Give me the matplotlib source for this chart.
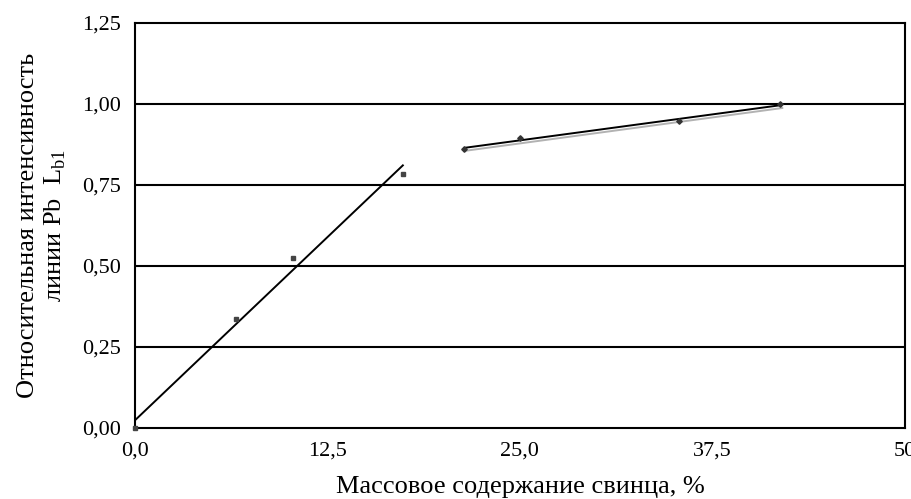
import numpy as np
import matplotlib
matplotlib.use('Agg')
import matplotlib.pyplot as plt
import matplotlib.patheffects as pe

plt.rcParams['font.family'] = ['Liberation Serif', 'DejaVu Serif']

# data
x_low = [0.0, 6.6, 10.3, 17.4]
y_low = [0.0, 0.336, 0.525, 0.784]
x_high = [21.4, 25.0, 35.3, 41.9]
y_high = [0.861, 0.895, 0.946, 1.0]

x_ticks = [0, 12.5, 25, 37.5, 50]
x_labels = ['0,0', '12,5', '25,0', '37,5', '50']
y_ticks = [0, 0.25, 0.5, 0.75, 1.0, 1.25]
y_labels = ['0,00', '0,25', '0,50', '0,75', '1,00', '1,25']

fig = plt.figure(figsize=(9.11, 4.99), dpi=100)
ax = fig.add_axes([0.148, 0.1423, 0.8454, 0.8117])

for y in y_ticks[1:-1]:
    ax.axhline(y, color='black', lw=1.5, zorder=1)

# linear trend lines
k1, b1 = np.polyfit(x_low, y_low, 1)
xs = np.array([x_low[0], x_low[-1]])
ax.plot(xs, k1 * xs + b1, color='black', lw=1.4, zorder=2)

k2, b2 = np.polyfit(x_high, y_high, 1)
xs = np.array([x_high[0], x_high[-1]])
ax.plot(xs, k2 * xs + b2, color='black', lw=1.4, zorder=2,
        path_effects=[pe.SimpleLineShadow(offset=(1.5, -2), shadow_color='gray', alpha=0.6),
                      pe.Normal()])

ax.plot(x_low, y_low, 's', color='#444444', ms=3.5, ls='none', zorder=3, clip_on=False)
ax.plot(x_high, y_high, 'D', color='#333333', ms=2.8, ls='none', zorder=3, clip_on=False)

ax.set_xlim(0, 50)
ax.set_ylim(0, 1.25)
ax.set_xticks(x_ticks)
ax.set_xticklabels(x_labels)
ax.set_yticks(y_ticks)
ax.set_yticklabels(y_labels)
ax.tick_params(length=0, labelsize=16)
ax.tick_params(axis='x', pad=10)
ax.tick_params(axis='y', pad=10)
for s in ax.spines.values():
    s.set_linewidth(1.5)

ax.set_xlabel('Массовое содержание свинца, %', fontsize=19, labelpad=11)
ax.set_ylabel('Относительная интенсивность\nлинии Pb  L$_{\\mathregular{b1}}$', fontsize=19,
              labelpad=10, linespacing=1.2)

fig.savefig('out.png', dpi=100)
